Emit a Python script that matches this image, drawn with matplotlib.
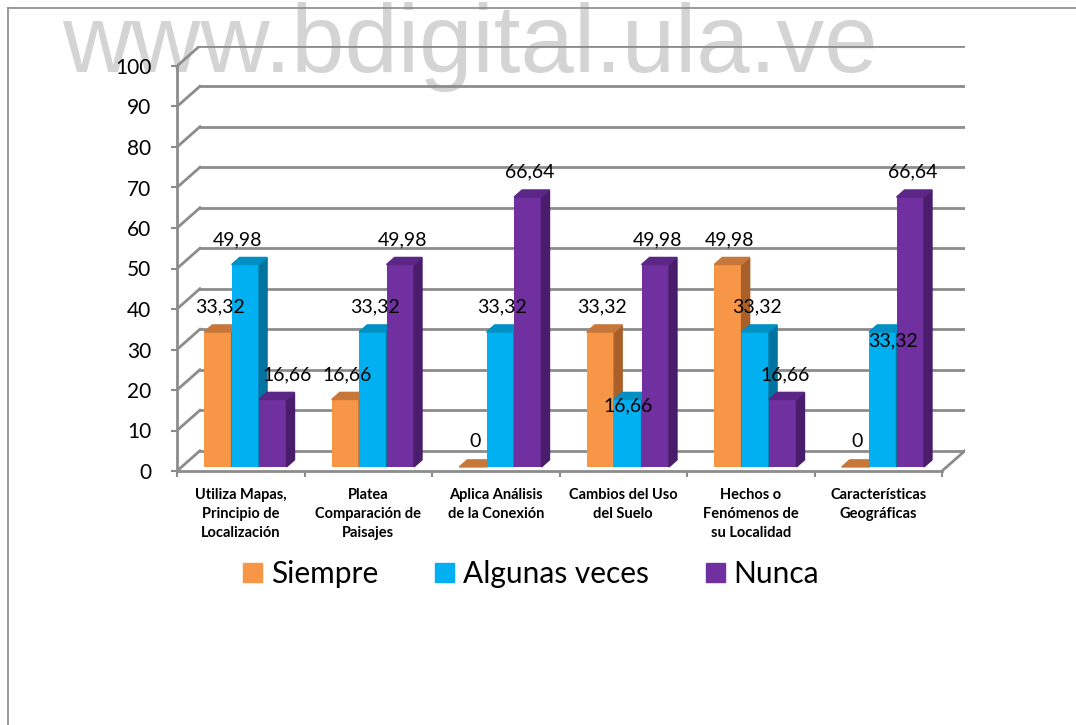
import matplotlib.pyplot as plt
from matplotlib.patches import Polygon, Patch
from matplotlib.lines import Line2D

categories = ["Utiliza Mapas,\nPrincipio de\nLocalización",
              "Platea\nComparación de\nPaisajes",
              "Aplica Análisis\nde la Conexión",
              "Cambios del Uso\ndel Suelo",
              "Hechos o\nFenómenos de\nsu Localidad",
              "Características\nGeográficas"]
series_names = ["Siempre", "Algunas veces", "Nunca"]
siempre = [33.32, 16.66, 0, 33.32, 49.98, 0]
algunas = [49.98, 33.32, 33.32, 16.66, 33.32, 33.32]
nunca = [16.66, 49.98, 66.64, 49.98, 16.66, 66.64]
yticks = list(range(0, 101, 10))

# front / side / top colours per series
front = ["#F79646", "#00B0F0", "#7030A0"]
side = ["#A95F2A", "#00739E", "#4A1D6C"]
top = ["#C8773A", "#0090C4", "#5B2686"]

plt.rcParams['font.family'] = ['Lato', 'DejaVu Sans']

W, H = 1076, 725
fig = plt.figure(figsize=(W / 100, H / 100), dpi=100)

# pseudo 3d depth offsets (category units, value units)
DX, DY = 0.18, 5.0
F0, F1 = 0.2, 0.55   # bar front / back as fraction of depth

ax = fig.add_axes([177 / W, (H - 471) / H, (6 + DX) * 127.5 / W, (100 + DY) * 4.05 / H])
ax.set_xlim(-0.5, 5.5 + DX)
ax.set_ylim(0, 100 + DY)
ax.patch.set_visible(False)
ax.set_zorder(1)

grid = "#8c8c8c"
for y in yticks:
    ax.plot([-0.5 + DX, 5.5 + DX], [y + DY, y + DY], color=grid, lw=2, zorder=1)
    ax.plot([-0.5, -0.5 + DX], [y, y + DY], color=grid, lw=2, zorder=1)
ax.plot([5.5, 5.5 + DX], [0, DY], color=grid, lw=2, zorder=1)

for s in ["top", "right"]:
    ax.spines[s].set_visible(False)
ax.spines["left"].set_bounds(0, 100)
ax.spines["bottom"].set_bounds(-0.5, 5.5)
for s in ["left", "bottom"]:
    ax.spines[s].set_color(grid)
    ax.spines[s].set_linewidth(2)

ax.set_yticks(yticks)
ax.set_yticklabels([str(t) for t in yticks], fontsize=15)
ax.tick_params(axis="y", length=4.5, width=1.5, color=grid, pad=14)
ax.set_xticks([i - 0.5 for i in range(7)])
ax.set_xticklabels([])
ax.tick_params(axis="x", which="major", length=4.5, width=1.5, color=grid)
ax.set_xticks(range(6), minor=True)
ax.set_xticklabels(categories, minor=True, fontsize=10.5, fontweight="bold", linespacing=1.45)
ax.tick_params(axis="x", which="minor", length=0, pad=12)

bw = 0.215
data = [siempre, algunas, nunca]
# label nudges in pixels (dx, dy)
nudge = {(0, 1): (-8, 0), (0, 2): (14, 0), (3, 1): (0, -31), (5, 1): (10, -34)}

base = F0 * DY
d = F1 - F0
for i in range(len(categories)):
    for j in range(3):
        v = data[j][i]
        x0 = i - 3 * bw / 2 + j * bw + F0 * DX
        x1 = x0 + bw
        ax.bar(x0, v, width=bw, bottom=base, align="edge", color=front[j], zorder=3 + j)
        ax.add_patch(Polygon([(x1, base), (x1 + d * DX, base + d * DY),
                              (x1 + d * DX, base + v + d * DY), (x1, base + v)],
                             closed=True, color=side[j], zorder=3 + j))
        ax.add_patch(Polygon([(x0, base + v), (x1, base + v),
                              (x1 + d * DX, base + v + d * DY), (x0 + d * DX, base + v + d * DY)],
                             closed=True, color=top[j], zorder=3 + j))
        txt = "0" if v == 0 else f"{v:.2f}".replace(".", ",")
        ndx, ndy = nudge.get((i, j), (2, 0))
        ax.annotate(txt, (x0 + bw / 2, base + v), xytext=(ndx * 0.72, (25 + ndy) * 0.72),
                    textcoords="offset points", ha="center", va="center",
                    fontsize=14, zorder=10)

handles = [Patch(color=c) for c in front]
fig.legend(handles, series_names, loc="center", bbox_to_anchor=(531 / W, 1 - 574 / H),
           ncol=3, frameon=False, fontsize=21.5, handlelength=0.64, handleheight=0.64,
           handletextpad=0.3, columnspacing=1.9)

fig.text(470 / W, 1 - 72 / H, "www.bdigital.ula.ve", fontsize=69, color="#d4d4d4",
         family="Liberation Sans", ha="center", va="baseline", zorder=0.5)

fig.add_artist(Line2D([8 / W, 1], [1 - 8 / H, 1 - 8 / H], color="#8a8a8a", lw=1.2))
fig.add_artist(Line2D([8 / W, 8 / W], [0, 1 - 8 / H], color="#8a8a8a", lw=1.2))

fig.savefig("out.png", dpi=100)
